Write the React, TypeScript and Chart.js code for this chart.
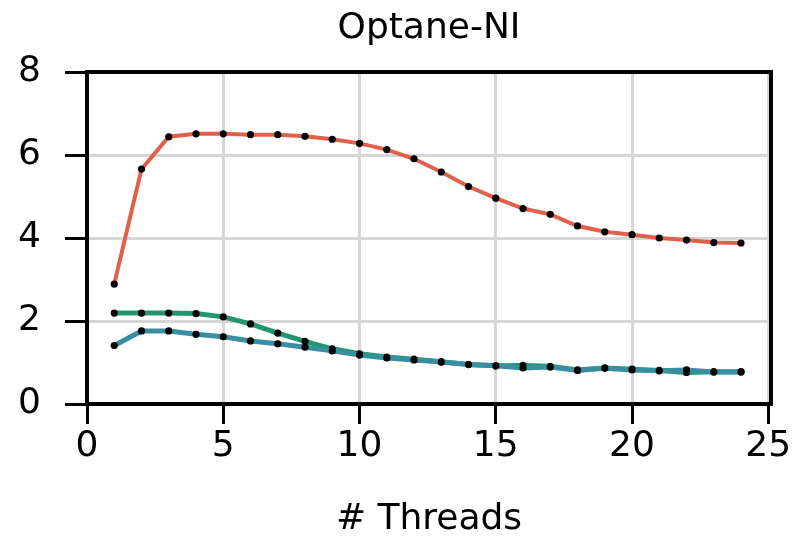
import React, { useEffect, useRef } from "react";
import { Chart, registerables } from "chart.js";

Chart.register(...registerables);

const chartTitle = "Optane-NI";
const xAxisLabel = "# Threads";
const threads = [1, 2, 3, 4, 5, 6, 7, 8, 9, 10, 11, 12, 13, 14, 15, 16, 17, 18, 19, 20, 21, 22, 23, 24];
const redSeries = [2.89, 5.66, 6.44, 6.51, 6.51, 6.49, 6.49, 6.45, 6.38, 6.28, 6.13, 5.91, 5.59, 5.24, 4.96, 4.71, 4.57, 4.29, 4.15, 4.08, 4.0, 3.95, 3.89, 3.88];
const greenSeries = [2.19, 2.19, 2.19, 2.18, 2.1, 1.93, 1.71, 1.51, 1.33, 1.21, 1.13, 1.08, 1.02, 0.95, 0.92, 0.93, 0.91, 0.82, 0.87, 0.84, 0.81, 0.76, 0.78, 0.78];
const blueSeries = [1.41, 1.76, 1.76, 1.68, 1.62, 1.52, 1.45, 1.37, 1.28, 1.18, 1.11, 1.06, 1.01, 0.95, 0.92, 0.87, 0.89, 0.81, 0.86, 0.82, 0.8, 0.82, 0.77, 0.77];
const xTicks = [0, 5, 10, 15, 20, 25];
const yTicks = [0, 2, 4, 6, 8];

const FONT = "'DejaVu Sans', sans-serif";
const FS = 36;

export default function App() {
  const ref = useRef<HTMLCanvasElement | null>(null);

  useEffect(() => {
    document.body.style.margin = "0";
    const canvas = ref.current;
    if (!canvas) return;

    const toPts = (vals: number[]) => vals.map((v, i) => ({ x: threads[i], y: v }));

    const framePlugin = {
      id: "frame",
      afterDraw(chart: any) {
        const { ctx, chartArea } = chart;
        ctx.save();
        ctx.strokeStyle = "#000";
        ctx.lineWidth = 4;
        ctx.strokeRect(chartArea.left, chartArea.top, chartArea.right - chartArea.left, chartArea.bottom - chartArea.top);
        ctx.fillStyle = "#000";
        ctx.font = `${FS}px ${FONT}`;
        ctx.textAlign = "center";
        ctx.textBaseline = "middle";
        const cx = (chartArea.left + chartArea.right) / 2;
        ctx.fillText(chartTitle, cx, 29);
        ctx.fillText(xAxisLabel, cx, 520);
        ctx.restore();
      },
    };

    const pointStyle = {
      pointRadius: 3.6,
      pointBackgroundColor: "#000",
      pointBorderWidth: 0,
      pointHoverRadius: 3.6,
    };

    const chart = new Chart(canvas, {
      type: "line",
      data: {
        datasets: [
          { data: toPts(redSeries), borderColor: "#e0604a", borderWidth: 4, ...pointStyle },
          { data: toPts(blueSeries), borderColor: "#3a8ea2", borderWidth: 5, ...pointStyle },
          { data: toPts(greenSeries), borderColor: "#22976e", borderWidth: 5, ...pointStyle },
        ],
      },
      options: {
        animation: false,
        responsive: false,
        maintainAspectRatio: false,
        layout: { padding: { left: 0, right: 23, top: 72, bottom: 0 } },
        plugins: { legend: { display: false }, tooltip: { enabled: false }, title: { display: false } },
        scales: {
          x: {
            type: "linear",
            min: 0,
            max: 25.1,
            afterBuildTicks: (s: any) => {
              s.ticks = xTicks.map((v) => ({ value: v }));
            },
            afterFit: (s: any) => {
              s.height = 135;
            },
            grid: { color: "#d6d6d6", lineWidth: 3, tickColor: "#000", tickWidth: 3, tickLength: 20 },
            border: { display: false },
            ticks: { color: "#000", font: { family: FONT, size: FS }, padding: 1, maxRotation: 0 },
          },
          y: {
            type: "linear",
            min: 0,
            max: 8,
            afterBuildTicks: (s: any) => {
              s.ticks = yTicks.map((v) => ({ value: v }));
            },
            afterFit: (s: any) => {
              s.width = 87;
            },
            grid: { color: "#d6d6d6", lineWidth: 3, tickColor: "#000", tickWidth: 3, tickLength: 22 },
            border: { display: false },
            ticks: { color: "#000", font: { family: FONT, size: FS }, padding: 24 },
          },
        },
      },
      plugins: [framePlugin],
    });

    return () => chart.destroy();
  }, []);

  return (
    <div style={{ width: 794, height: 539 }}>
      <canvas ref={ref} width={794} height={539} style={{ display: "block" }} />
    </div>
  );
}
